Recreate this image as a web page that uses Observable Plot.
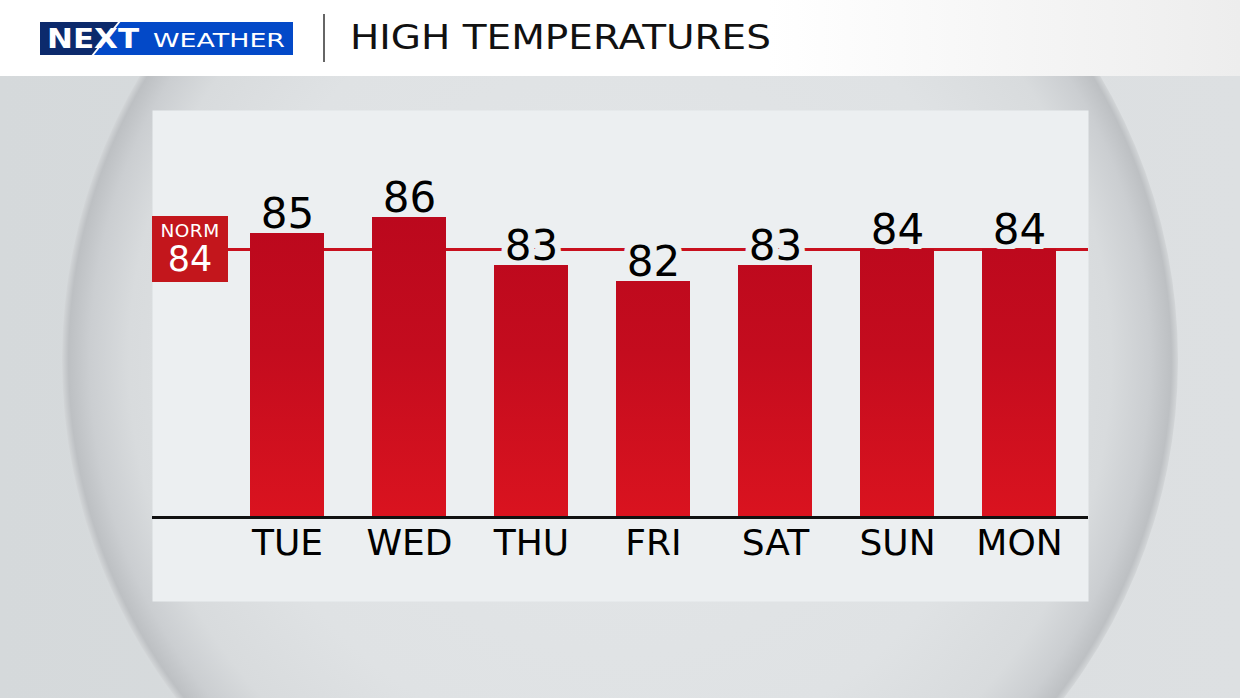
<!DOCTYPE html>
<html>
<head>
<meta charset="utf-8">
<script src="https://cdn.jsdelivr.net/npm/d3@7"></script>
<script src="https://cdn.jsdelivr.net/npm/@observablehq/plot@0.6"></script>
<style>
  html, body { margin: 0; padding: 0; }
  body { width: 1240px; height: 698px; overflow: hidden; position: relative; background: #d9dcde; font-family: "DejaVu Sans", sans-serif; }
  #bgfade { position: absolute; left: 0; top: 0; width: 1240px; height: 698px;
    background: linear-gradient(90deg, #d5d9db 0%, #dadddf 50%, #dde0e2 100%); }
  #circle { position: absolute; left: 62px; top: -198px; width: 1116px; height: 1116px; border-radius: 50%;
    background: radial-gradient(circle closest-side, #e3e6e8 0%, #dfe2e4 70%, #d8dbdd 88%, #cbced1 95%, #bdc0c3 98.8%, #d3d6d8 100%); }
  #header { position: absolute; left: 0; top: 0; z-index: 3; }
  #chart { position: absolute; left: 0; top: 0; z-index: 2; }
  #norm { position: absolute; z-index: 4; background: #c3161c; color: #fff; text-align: center; font-family: "DejaVu Sans", sans-serif; }
  #norm .t { font-size: 18.5px; line-height: 18px; padding-top: 6px; letter-spacing: 0.5px; }
  #norm .v { font-size: 35px; line-height: 38px; }
</style>
</head>
<body>
<div id="bgfade"></div>
<div id="circle"></div>
<svg id="header" width="1240" height="76" xmlns="http://www.w3.org/2000/svg">
  <defs>
    <linearGradient id="hg" x1="0" x2="1" y1="0" y2="0">
      <stop offset="0" stop-color="#ffffff"/>
      <stop offset="0.62" stop-color="#ffffff"/>
      <stop offset="1" stop-color="#ededed"/>
    </linearGradient>
  </defs>
  <rect x="0" y="0" width="1240" height="76" fill="url(#hg)"/>
  <rect x="40" y="22" width="253" height="33" fill="#0349c8"/>
  <polygon points="40,22 119,22 93,55 40,55" fill="#0c2a6c"/>
  <line x1="120" y1="21" x2="92" y2="56" stroke="#ffffff" stroke-width="2"/>
  <text x="47" y="48" font-family="DejaVu Sans" font-weight="bold" font-size="26" fill="#ffffff" textLength="92" lengthAdjust="spacingAndGlyphs">NEXT</text>
  <text x="153" y="46.5" font-family="DejaVu Sans" font-size="19.5" fill="#ffffff" textLength="132" lengthAdjust="spacingAndGlyphs">WEATHER</text>
  <line x1="324" y1="14" x2="324" y2="62" stroke="#333333" stroke-width="1.5"/>
  <text x="350" y="49" font-family="DejaVu Sans" font-size="34" fill="#111111" textLength="421" lengthAdjust="spacingAndGlyphs">HIGH TEMPERATURES</text>
</svg>
<div id="chart"></div>
<script>
// ---- data ----
const days = ["TUE", "WED", "THU", "FRI", "SAT", "SUN", "MON"];
const highs = [85, 86, 83, 82, 83, 84, 84];
const normalHigh = 84;
const normLabel = "NORM";
const yFloor = 67.25;

const data = days.map((d, i) => ({day: d, temp: highs[i]}));

const chart = Plot.plot({
  width: 1240,
  height: 698,
  marginLeft: 152,
  marginRight: 152,
  marginTop: 110,
  marginBottom: 97,
  style: {background: "transparent", fontFamily: "DejaVu Sans, sans-serif", color: "#000", overflow: "visible"},
  x: {type: "band", domain: days, range: [224.2, 1081], paddingInner: 0.395, paddingOuter: 0.1975, label: null},
  y: {domain: [yFloor, normalHigh], range: [517, 249], axis: null},
  marks: [
    Plot.frame({fill: "#eceff1", stroke: "none"}),
    Plot.ruleY([normalHigh], {stroke: "#c8101e", strokeWidth: 3}),
    Plot.text(data, {x: "day", y: "temp", text: d => String(d.temp), fontSize: 42, lineAnchor: "bottom", dy: -6,
      fill: "#000", stroke: "#eceff1", strokeWidth: 12, strokeLinejoin: "round", paintOrder: "stroke"}),
    Plot.barY(data, {x: "day", y1: yFloor, y2: "temp", fill: "url(#barGrad)"}),
    Plot.ruleY([yFloor], {stroke: "#111", strokeWidth: 3}),
    Plot.axisX({anchor: "bottom", tickSize: 0, tickPadding: 3, fontSize: 36, dy: -75, fill: "#000"})
  ]
});

// gradient for bars
const svg = d3.select(chart);
const defs = svg.insert("defs", ":first-child");
const g = defs.append("linearGradient").attr("id", "barGrad")
  .attr("gradientUnits", "userSpaceOnUse").attr("x1", 0).attr("x2", 0).attr("y1", 217).attr("y2", 517);
g.append("stop").attr("offset", 0).attr("stop-color", "#bb081d");
g.append("stop").attr("offset", 0.45).attr("stop-color", "#c40c1e");
g.append("stop").attr("offset", 1).attr("stop-color", "#da131f");

document.getElementById("chart").appendChild(chart);

// NORM label box tied to the y scale
const yNorm = chart.scale("y").apply(normalHigh);
const box = document.createElement("div");
box.id = "norm";
box.style.left = "152px";
box.style.width = "76px";
box.style.top = (yNorm - 33) + "px";
box.style.height = "66px";
box.innerHTML = `<div class="t">${normLabel}</div><div class="v">${normalHigh}</div>`;
document.body.appendChild(box);
</script>
</body>
</html>
